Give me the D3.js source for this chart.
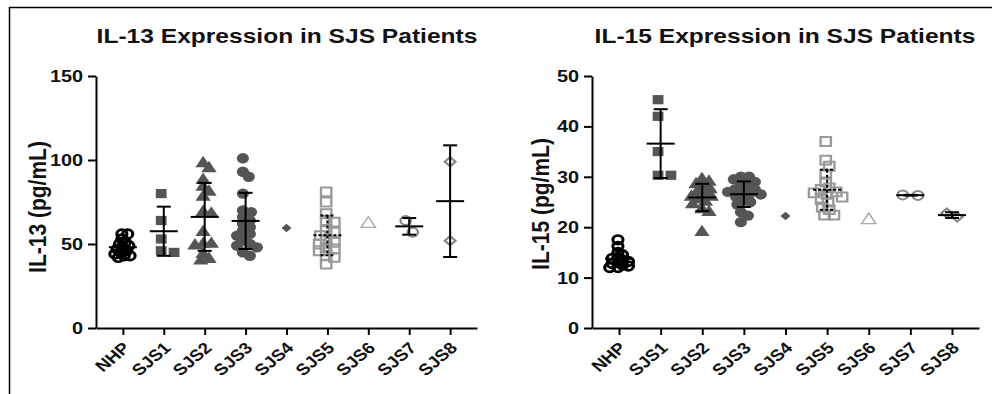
<!DOCTYPE html>
<html>
<head>
<meta charset="utf-8">
<script src="https://cdn.jsdelivr.net/npm/d3@7"></script>
<style>
  body { margin: 0; background: #fff; }
  svg { display: block; }
  text { font-family: "Liberation Sans", Arial, sans-serif; font-weight: bold; fill: #111; }
</style>
</head>
<body>
<svg id="chart" width="992" height="394"></svg>
<script>
// categories along both x axes
const categories = ["NHP", "SJS1", "SJS2", "SJS3", "SJS4", "SJS5", "SJS6", "SJS7", "SJS8"];

// IL-13 (pg/mL), one array per group
const il13Nhp  = [56, 56, 53, 51, 50, 49, 48, 47, 46, 45, 44, 43, 43, 42];
const il13Sjs1 = [80, 64, 53, 45, 46];
const il13Sjs2 = [98, 95, 88, 84, 81, 78, 69, 68, 57, 50, 50, 49, 44, 41, 40];
const il13Sjs3 = [101, 93, 90, 80, 70, 69, 66, 64, 62, 60, 58, 56, 55, 52, 50, 49, 48, 45, 43];
const il13Sjs4 = [59.5];
const il13Sjs5 = [81, 75, 68, 64, 63, 58, 57, 55, 52, 51, 50, 48, 47, 46, 43, 42, 38];
const il13Sjs6 = [62];
const il13Sjs7 = [57, 64];
const il13Sjs8 = [99, 52];

// IL-15 (pg/mL)
const il15Nhp  = [17.5, 16.2, 15, 14.5, 14, 13.8, 13.5, 13.2, 13, 12.8, 12.5, 12.3, 12, 12];
const il15Sjs1 = [45.3, 42, 35, 30.3, 30.3];
const il15Sjs2 = [29.5, 29, 28.5, 28, 27.5, 27, 26.5, 26, 26, 25.5, 25, 24.5, 23.5, 23, 19];
const il15Sjs3 = [30, 30, 29.5, 29, 28.5, 28, 27.5, 27.5, 27, 27, 26.5, 26.5, 26, 25.5, 25, 24.5, 23, 22.3, 21];
const il15Sjs4 = [22.2];
const il15Sjs5 = [37, 33.3, 32.1, 30.5, 29, 27.8, 27.5, 27, 26.8, 26.5, 26, 25.5, 25, 24, 23.5, 22.4, 22.4];
const il15Sjs6 = [21.4];
const il15Sjs7 = [26.3, 26.4];
const il15Sjs8 = [22.0, 22.8];

const il13Ticks = [0, 50, 100, 150];
const il15Ticks = [0, 10, 20, 30, 40, 50];

// marker look for each group (same in both panels); gap = spacing used when points collide
const markers = [
  { type: d3.symbolCircle,   size: 58, fill: "none", stroke: "#000", sw: 2.7, gap: 4.5 },
  { type: d3.symbolSquare,   size: 85, fill: "#555", stroke: "none", sw: 0,   gap: 11 },
  { type: d3.symbolTriangle, size: 75, fill: "#555", stroke: "none", sw: 0,   gap: 6.5 },
  { type: d3.symbolCircle,   size: 85, fill: "#555", stroke: "none", sw: 0,   gap: 6.5 },
  { type: d3.symbolSquare,   size: 36, fill: "#555", stroke: "none", sw: 0,   gap: 8, rot: 45 },
  { type: d3.symbolSquare,   size: 78, fill: "none", stroke: "#999", sw: 2,   gap: 6.5 },
  { type: d3.symbolTriangle, size: 65, fill: "none", stroke: "#aaa", sw: 1.3, gap: 8 },
  { type: d3.symbolCircle,   size: 62, fill: "none", stroke: "#888", sw: 2,   gap: 13 },
  { type: d3.symbolSquare,   size: 42, fill: "none", stroke: "#888", sw: 2,   gap: 9, rot: 45 }
];

const SX = 1.17; // the picture is a little stretched sideways

const svg = d3.select("#chart");

// frame
svg.append("path")
  .attr("d", "M9.5,394 V7.5 H992")
  .attr("fill", "none").attr("stroke", "#000").attr("stroke-width", 1.5);

// small beeswarm so points sit side by side instead of on top of each other
function swarm(values, y, minDist) {
  const placed = [];
  const dx = values.map(() => 0);
  const order = values.map((v, i) => i).sort((a, b) => values[b] - values[a]);
  order.forEach(i => {
    const py = y(values[i]);
    for (let k = 0; k < 80; k++) {
      const off = (k % 2 ? 1 : -1) * Math.ceil(k / 2);
      if (placed.every(p => Math.hypot(p[0] - off, p[1] - py) >= minDist)) {
        dx[i] = off; placed.push([off, py]); break;
      }
    }
  });
  const m = d3.mean(dx);
  return dx.map(d => d - m);
}

function drawPanel(cfg) {
  const x = d3.scalePoint().domain(categories).range([cfg.left, cfg.right]).padding(cfg.pad);
  const y = d3.scaleLinear().domain([0, cfg.max]).range([328, 76]);
  const g = svg.append("g");

  // title
  g.append("text")
    .attr("transform", `translate(${cfg.titleX},43) scale(${SX},1)`)
    .attr("text-anchor", "middle")
    .style("font-size", "21px")
    .text(cfg.title);

  // y label
  g.append("text")
    .attr("transform", `translate(${cfg.labelX},${cfg.labelY}) scale(${SX},1) rotate(-90)`)
    .attr("text-anchor", "middle")
    .style("font-size", "21px")
    .text(cfg.ylabel);

  // axes
  const yAxis = g.append("g")
    .attr("transform", `translate(${cfg.left},0)`)
    .call(d3.axisLeft(y).tickValues(cfg.ticks).tickSize(8).tickSizeOuter(0).tickPadding(3));
  yAxis.selectAll("text")
    .style("font-size", "17px")
    .attr("transform", `scale(${SX},1)`);

  const xAxis = g.append("g")
    .attr("transform", "translate(0,328)")
    .call(d3.axisBottom(x).tickSize(7).tickSizeOuter(0));
  xAxis.selectAll("text")
    .style("font-size", "16px")
    .attr("text-anchor", "end")
    .attr("x", 0).attr("y", 0).attr("dy", "0.35em")
    .attr("transform", `translate(3,17) scale(${SX},1) rotate(-45)`);

  [yAxis, xAxis].forEach(a => {
    a.select(".domain").attr("stroke", "#000").attr("stroke-width", 2);
    a.selectAll(".tick line").attr("stroke", "#000").attr("stroke-width", 2);
    a.selectAll("text").style("fill", "#111").style("font-family", "'Liberation Sans', Arial, sans-serif");
  });

  // points
  cfg.groups.forEach((vals, gi) => {
    const mk = markers[gi];
    const cx = x(categories[gi]);
    const offs = swarm(vals, y, mk.gap);
    g.append("g").selectAll("path")
      .data(vals)
      .join("path")
      .attr("d", d3.symbol(mk.type, mk.size))
      .attr("transform", (d, i) => `translate(${cx + offs[i] * SX},${y(d)}) scale(${SX},1) rotate(${mk.rot || 0})`)
      .attr("fill", mk.fill)
      .attr("stroke", mk.stroke)
      .attr("stroke-width", mk.sw);
  });

  // mean and SD bars
  cfg.groups.forEach((vals, gi) => {
    if (vals.length < 2) return;
    const cx = x(categories[gi]);
    const m = d3.mean(vals), sd = d3.deviation(vals);
    const bar = g.append("g")
      .attr("stroke", "#000").attr("stroke-width", 2).attr("fill", "none")
      .attr("stroke-dasharray", gi === 5 ? "3,2" : null);
    bar.append("line").attr("x1", cx - 14).attr("x2", cx + 14).attr("y1", y(m)).attr("y2", y(m));
    bar.append("line").attr("x1", cx).attr("x2", cx).attr("y1", y(m + sd)).attr("y2", y(m - sd));
    [m + sd, m - sd].forEach(v => {
      bar.append("line").attr("x1", cx - 7).attr("x2", cx + 7).attr("y1", y(v)).attr("y2", y(v));
    });
  });
}

drawPanel({
  title: "IL-13 Expression in SJS Patients", ylabel: "IL-13 (pg/mL)",
  left: 96, right: 477, pad: 0.657, max: 150, ticks: il13Ticks,
  titleX: 287, labelX: 46, labelY: 207,
  groups: [il13Nhp, il13Sjs1, il13Sjs2, il13Sjs3, il13Sjs4, il13Sjs5, il13Sjs6, il13Sjs7, il13Sjs8]
});

drawPanel({
  title: "IL-15 Expression in SJS Patients", ylabel: "IL-15 (pg/mL)",
  left: 592, right: 979, pad: 0.649, max: 50, ticks: il15Ticks,
  titleX: 785, labelX: 549, labelY: 204,
  groups: [il15Nhp, il15Sjs1, il15Sjs2, il15Sjs3, il15Sjs4, il15Sjs5, il15Sjs6, il15Sjs7, il15Sjs8]
});
</script>
</body>
</html>
